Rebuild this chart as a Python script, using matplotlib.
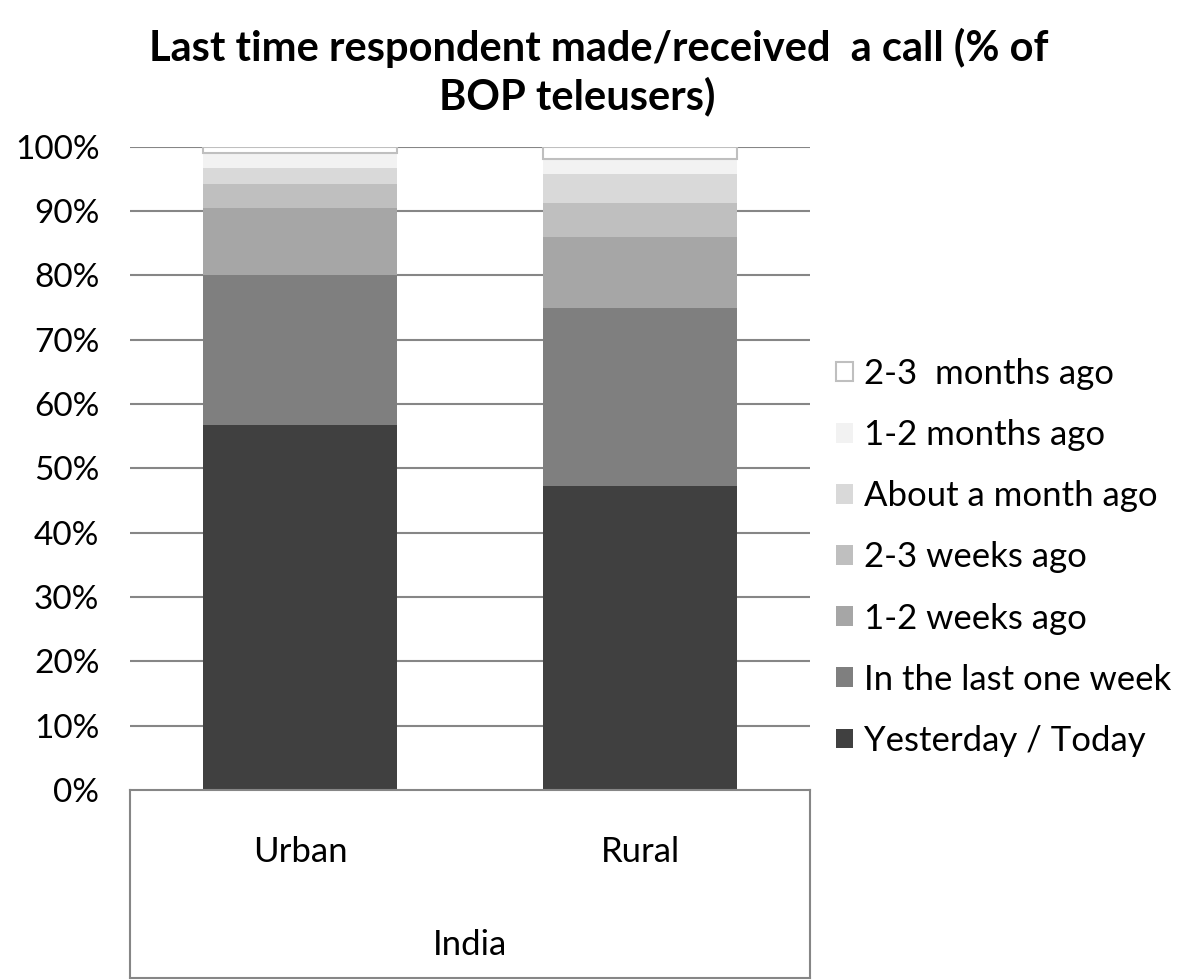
import matplotlib
matplotlib.use("Agg")
import matplotlib.pyplot as plt
import numpy as np
from matplotlib.patches import Patch

plt.rcParams['font.family'] = ['Lato', 'DejaVu Sans']

categories = ["Urban", "Rural"]
group_label = "India"
series_names = ["Yesterday / Today", "In the last one week", "1-2 weeks ago",
                "2-3 weeks ago", "About a month ago", "1-2 months ago",
                "2-3  months ago"]
urban = [56.7, 23.3, 10.5, 3.7, 2.5, 2.3, 0.9]
rural = [47.3, 27.7, 10.9, 5.3, 4.6, 2.3, 1.8]
colors = ["#404040", "#7f7f7f", "#a6a6a6", "#bfbfbf", "#d9d9d9", "#f2f2f2", "#ffffff"]
yticks = [0, 10, 20, 30, 40, 50, 60, 70, 80, 90, 100]
title_lines = ["Last time respondent made/received  a call (% of", "BOP teleusers)"]

grid_c = "#868686"

fig = plt.figure(figsize=(11.96, 9.8), dpi=100)
ax = fig.add_axes([130/1196, 1-790/980, 680/1196, (790-146.7)/980])
box = fig.add_axes([130/1196, 1-978/980, 680/1196, (978-790)/980], sharex=ax)

x = np.arange(len(categories))
data = np.array([urban, rural])
bottom = np.zeros(len(categories))
handles = []
for i, name in enumerate(series_names):
    vals = data[:, i]
    last = i == len(series_names) - 1
    ec = "#bfbfbf" if last else "none"
    lw = 1.5 if last else 0
    ax.bar(x, vals, 0.57, bottom=bottom, color=colors[i], edgecolor=ec,
           linewidth=lw, zorder=3)
    bottom += vals
    handles.append(Patch(facecolor=colors[i], edgecolor=ec, linewidth=lw, label=name))

ax.set_xlim(-0.5, 1.5)
ax.set_ylim(0, 100)
ax.set_yticks(yticks)
ax.set_yticklabels([f"{v}%" for v in yticks], fontsize=24)
ax.tick_params(axis='y', length=0, pad=22)
ax.tick_params(axis='x', length=0, labelbottom=False)
for s in ["left", "right", "top", "bottom"]:
    ax.spines[s].set_visible(False)
for v in yticks[1:]:
    ax.axhline(v, color=grid_c, lw=1.5, zorder=1)

for s in box.spines.values():
    s.set_color(grid_c)
    s.set_linewidth(1.5)
box.set_yticks([])
box.tick_params(axis='x', length=0, labelbottom=False)
box.set_ylim(0, 1)
for xi, c in zip(x, categories):
    box.text(xi, 0.67, c, ha='center', va='center', fontsize=25)
box.text(0.5, 0.175, group_label, ha='center', va='center', fontsize=25,
         transform=box.transAxes)

fig.text(599/1196, 1-48/980, title_lines[0], ha='center', va='center', fontsize=30,
         fontweight='bold')
fig.text(577/1196, 1-96/980, title_lines[1], ha='center', va='center', fontsize=30,
         fontweight='bold')

leg = fig.legend(handles=handles[::-1], loc='upper left',
                 bbox_to_anchor=(822/1196, 1-344/980), frameon=False,
                 fontsize=25, handlelength=0.5, handleheight=0.5,
                 handletextpad=0.3, labelspacing=0.84, borderaxespad=0)

fig.savefig("out.png", dpi=100)
